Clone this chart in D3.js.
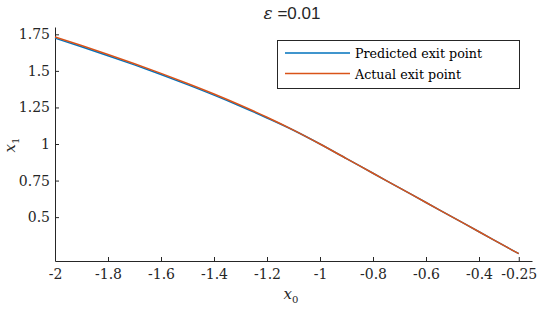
<!DOCTYPE html>
<html>
<head>
<meta charset="utf-8">
<script src="https://cdn.jsdelivr.net/npm/d3@7"></script>
<style>
  body { margin: 0; background: #fff; }
  svg { display: block; }
</style>
</head>
<body>
<svg id="chart" width="540" height="309"></svg>
<script>
// values
const x0 = [-2, -1.9, -1.8, -1.7, -1.6, -1.5, -1.4, -1.3, -1.2, -1.1, -1, -0.9, -0.8, -0.7, -0.6, -0.5, -0.4, -0.3, -0.25];
const actual = [1.732, 1.673, 1.612, 1.549, 1.483, 1.414, 1.342, 1.265, 1.183, 1.095, 1.0, 0.9, 0.8, 0.7, 0.6, 0.5, 0.4, 0.3, 0.25];
const predicted = [1.724, 1.665, 1.604, 1.541, 1.475, 1.406, 1.334, 1.258, 1.178, 1.094, 1.0, 0.9, 0.8, 0.7, 0.6, 0.5, 0.4, 0.3, 0.25];
const xTicks = [-2, -1.8, -1.6, -1.4, -1.2, -1, -0.8, -0.6, -0.4, -0.25];
const xTickLabels = ['-2', '-1.8', '-1.6', '-1.4', '-1.2', '-1', '-0.8', '-0.6', '-0.4', '-0.25'];
const yTicks = [0.5, 0.75, 1, 1.25, 1.5, 1.75];
const yTickLabels = ['0.5', '0.75', '1', '1.25', '1.5', '1.75'];
const seriesNames = ['Predicted exit point', 'Actual exit point'];
const colors = ['#0072BD', '#D95319'];

const serif = '"DejaVu Serif", serif';
const svg = d3.select('#chart');
const plotLeft = 55, plotRight = 532, plotTop = 27, plotBottom = 261;

const x = d3.scaleLinear().domain([-2, -0.2]).range([plotLeft, plotRight]);
const y = d3.scaleLinear().domain([0.2, 1.8]).range([plotBottom, plotTop]);

const xAxis = svg.append('g')
    .attr('transform', `translate(0,${plotBottom})`)
    .call(d3.axisBottom(x)
        .tickValues(xTicks)
        .tickFormat((d, i) => xTickLabels[i])
        .tickSizeInner(-4).tickSizeOuter(0).tickPadding(5));

const yAxis = svg.append('g')
    .attr('transform', `translate(${plotLeft},0)`)
    .call(d3.axisLeft(y)
        .tickValues(yTicks)
        .tickFormat((d, i) => yTickLabels[i])
        .tickSizeInner(-4).tickSizeOuter(0).tickPadding(5));

[xAxis, yAxis].forEach(a => {
    a.select('.domain').attr('stroke', '#262626').attr('stroke-width', 1);
    a.selectAll('.tick line').attr('stroke', '#262626');
    a.selectAll('.tick text')
        .attr('fill', '#262626')
        .style('font-family', serif)
        .style('font-size', '14px');
});
xAxis.selectAll('.tick text').attr('dy', '0.9em');

const line = d3.line()
    .x((d, i) => x(x0[i]))
    .y(d => y(d))
    .curve(d3.curveMonotoneX);

[predicted, actual].forEach((s, k) => {
    svg.append('path')
        .datum(s)
        .attr('d', line)
        .attr('fill', 'none')
        .attr('stroke', colors[k])
        .attr('stroke-width', 1.5);
});

// title
const title = svg.append('text')
    .attr('x', 292).attr('y', 19)
    .attr('text-anchor', 'middle')
    .attr('fill', '#262626')
    .style('font-size', '17px');
title.append('tspan').text('ε').style('font-family', serif).style('font-style', 'italic');
title.append('tspan').text(' =0.01').style('font-family', '"Liberation Sans", sans-serif');

// axis labels
const xl = svg.append('text')
    .attr('x', 291).attr('y', 299)
    .attr('text-anchor', 'middle')
    .attr('fill', '#262626')
    .style('font-family', serif)
    .style('font-size', '15px');
xl.append('tspan').text('x').style('font-style', 'italic');
xl.append('tspan').text('0').attr('dy', 4).style('font-size', '10px');

const yl = svg.append('text')
    .attr('transform', 'translate(15,145) rotate(-90)')
    .attr('text-anchor', 'middle')
    .attr('fill', '#262626')
    .style('font-family', serif)
    .style('font-size', '15px');
yl.append('tspan').text('x').style('font-style', 'italic');
yl.append('tspan').text('1').attr('dy', 4).style('font-size', '10px');

// legend
const legend = svg.append('g');
legend.append('rect')
    .attr('x', 277.5).attr('y', 40.5)
    .attr('width', 242).attr('height', 48)
    .attr('fill', '#fff')
    .attr('stroke', '#262626').attr('stroke-width', 1);
seriesNames.forEach((name, i) => {
    const ly = 53 + i * 20.5;
    legend.append('line')
        .attr('x1', 285).attr('x2', 350)
        .attr('y1', ly).attr('y2', ly)
        .attr('stroke', colors[i]).attr('stroke-width', 1.5);
    legend.append('text')
        .attr('x', 355).attr('y', ly + 5)
        .attr('fill', '#000')
        .style('font-family', serif)
        .style('font-size', '12.7px')
        .text(name);
});
</script>
</body>
</html>
